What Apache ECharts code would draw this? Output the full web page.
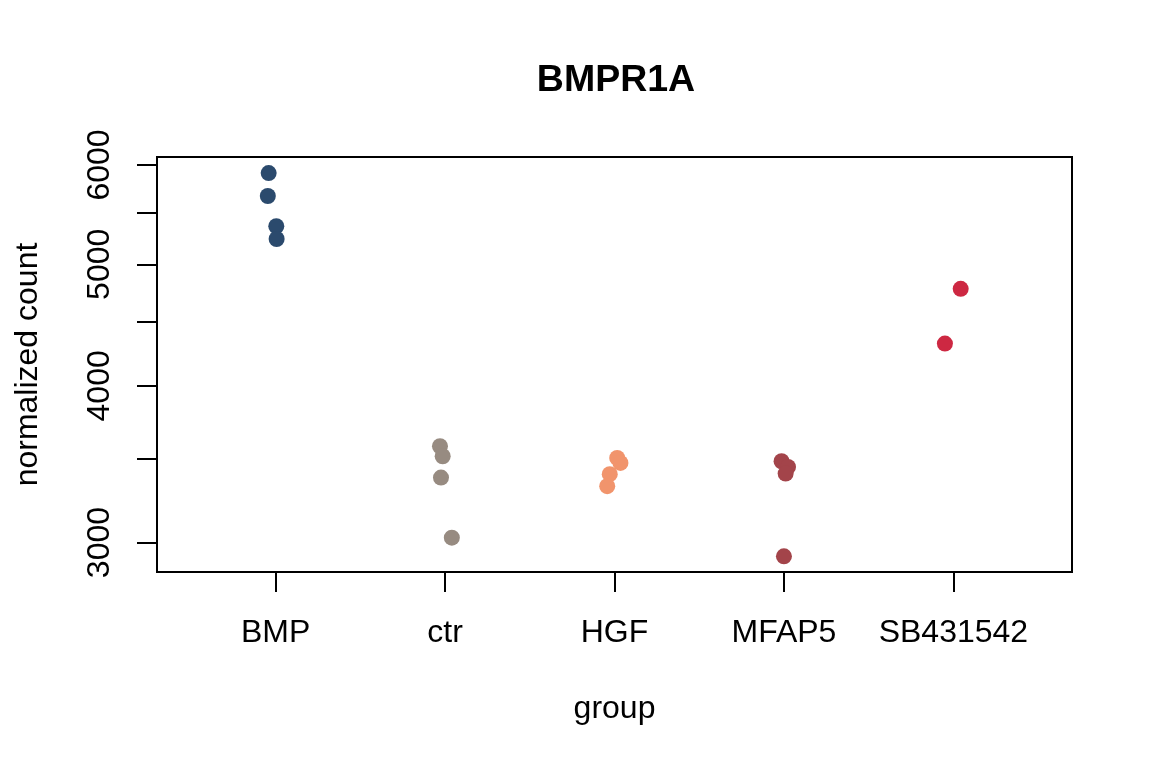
<!DOCTYPE html>
<html>
<head>
<meta charset="utf-8">
<script src="https://cdn.jsdelivr.net/npm/echarts@6/dist/echarts.min.js"></script>
<style>html,body{margin:0;padding:0;background:#fff;}#c{width:1152px;height:768px;}</style>
</head>
<body>
<div id="c"></div>
<script>
const categories = ['BMP', 'ctr', 'HGF', 'MFAP5', 'SB431542'];
const colors = ['#2B4A6D', '#978B81', '#F1946C', '#A3444A', '#CD2842'];
const valuesBMP = [5912, 5668, 5362, 5238];
const valuesCtr = [3580, 3515, 3380, 3027];
const valuesHGF = [3504, 3472, 3401, 3327];
const valuesMFAP5 = [3483, 3447, 3405, 2925];
const valuesSB = [4780, 4323];
const jitterBMP = [-0.041, -0.046, 0.004, 0.006];
const jitterCtr = [-0.030, -0.014, -0.024, 0.040];
const jitterHGF = [0.016, 0.035, -0.028, -0.043];
const jitterMFAP5 = [-0.014, 0.024, 0.010, 0.000];
const jitterSB = [0.043, -0.050];
const yTicks = [3000, 3500, 4000, 4500, 5000, 5500, 6000];
const yLabels = [3000, 4000, 5000, 6000];

const groups = [
  [valuesBMP, jitterBMP], [valuesCtr, jitterCtr], [valuesHGF, jitterHGF],
  [valuesMFAP5, jitterMFAP5], [valuesSB, jitterSB]
];

const series = groups.map((g, i) => ({
  type: 'scatter',
  name: categories[i],
  symbol: 'circle',
  symbolSize: 16,
  itemStyle: { color: colors[i], opacity: 1 },
  data: g[0].map((v, k) => [i + 1 + g[1][k], v]),
  animation: false
}));

const FONT = 'Liberation Sans, Arial, sans-serif';
const chart = echarts.init(document.getElementById('c'), null, { renderer: 'canvas' });
chart.setOption({
  backgroundColor: '#fff',
  animation: false,
  title: {
    text: 'BMPR1A',
    left: 611,
    top: 57,
    textAlign: 'center',
    textStyle: { fontFamily: FONT, fontWeight: 'bold', fontSize: 37.5, color: '#000' }
  },
  grid: {
    left: 157, right: 80, top: 157, bottom: 196,
    show: true, borderColor: '#000', borderWidth: 2, backgroundColor: 'transparent'
  },
  xAxis: {
    type: 'value',
    min: 0.3, max: 5.7,
    name: 'group',
    nameLocation: 'middle',
    nameGap: 121,
    nameTextStyle: { fontFamily: FONT, fontSize: 32, color: '#000' },
    axisLine: { show: false },
    splitLine: { show: false },
    axisTick: { show: true, length: 20, lineStyle: { color: '#000', width: 2 }, customValues: [1, 2, 3, 4, 5] },
    axisLabel: {
      customValues: [1, 2, 3, 4, 5],
      margin: 45,
      fontFamily: FONT, fontSize: 32, color: '#000',
      formatter: v => categories[Math.round(v) - 1] || ''
    }
  },
  yAxis: {
    type: 'log',
    min: 2842, max: 6089,
    name: 'normalized count',
    nameLocation: 'middle',
    nameGap: 113,
    nameRotate: 90,
    nameTextStyle: { fontFamily: FONT, fontSize: 32, color: '#000' },
    axisLine: { show: false },
    splitLine: { show: false },
    axisTick: { show: true, length: 20, lineStyle: { color: '#000', width: 2 }, customValues: yTicks },
    axisLabel: {
      customValues: yLabels,
      rotate: 90,
      margin: 41,
      fontFamily: FONT, fontSize: 32, color: '#000',
      formatter: v => String(Math.round(v))
    }
  },
  series: series
});
</script>
</body>
</html>
